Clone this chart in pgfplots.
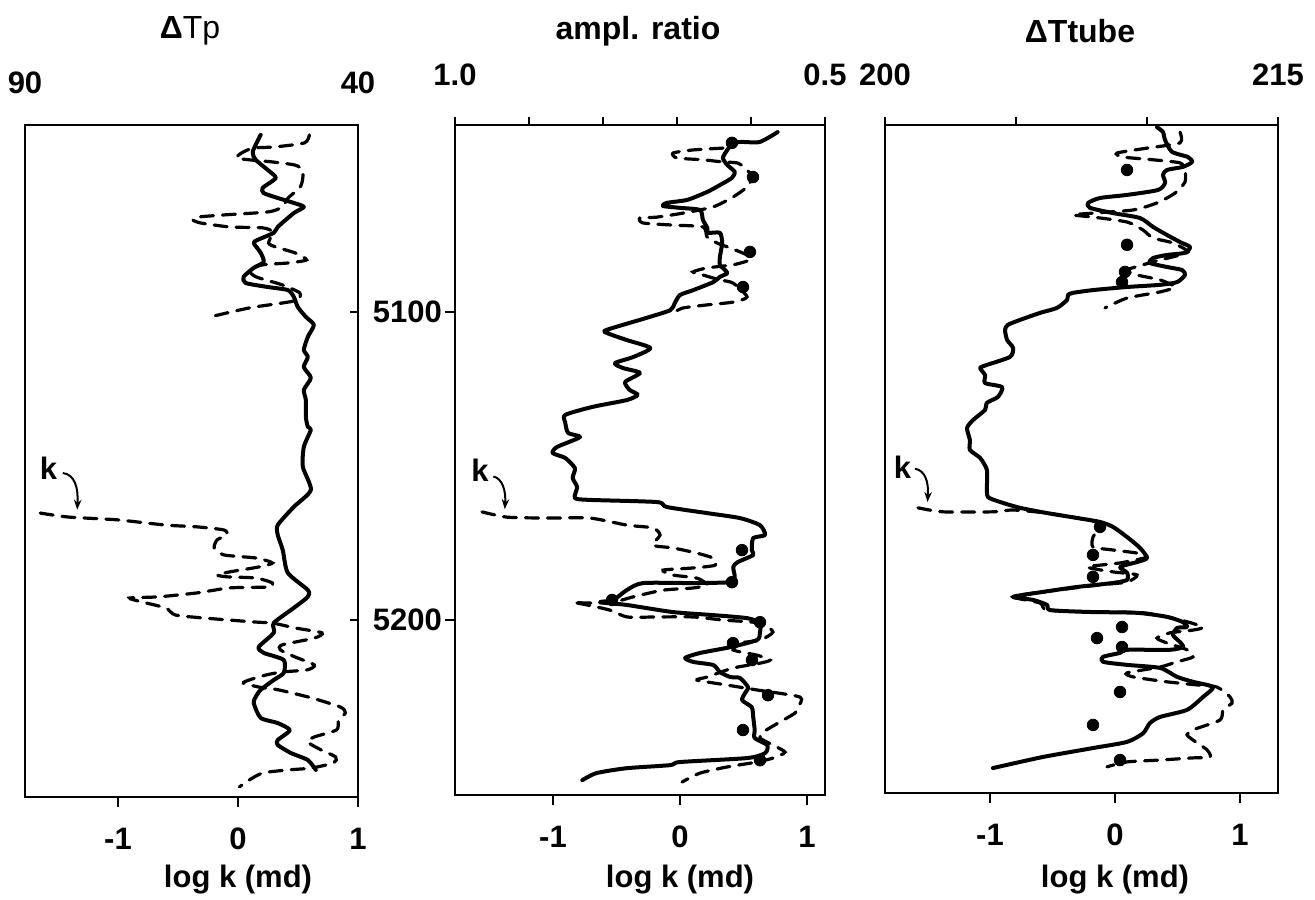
\documentclass[border=0pt]{standalone}
\usepackage{fontspec}
\setmainfont{Liberation Sans}
\usepackage{pgfplots}
\pgfplotsset{compat=1.18}
\usetikzlibrary{arrows.meta}

\newcommand\lab{\fontsize{15.5}{18}\selectfont\bfseries}

\pgfplotsset{
  logk/.style={scale only axis, y dir=reverse, clip=false,
    axis line style={line width=1.3pt},
    tick style={line width=1.1pt, black}, tick align=outside,
    major tick length=5pt,
    xtick={-1,0,1}, xticklabels={-1,0,1},
    xtick pos=lower, xticklabel pos=lower,
    ticklabel style={font=\lab},
    xticklabel style={yshift=-7pt}},
  param/.style={scale only axis, y dir=reverse,
    axis line style={draw=none},
    tick style={line width=1.1pt, black}, tick align=outside,
    major tick length=4pt,
    xtick pos=upper, xticklabel pos=upper, ytick=\empty,
    ticklabel style={font=\lab},
    xticklabel style={yshift=12pt}},
  solidk/.style={black, line width=2pt, smooth, tension=0.4, line join=round, line cap=round, no marks},
  dashk/.style={black, line width=1.6pt, dash pattern=on 6.5pt off 4.5pt, line cap=round, smooth, tension=0.4, no marks},
  core/.style={only marks, mark=*, mark size=2.9pt, black},
}

\begin{document}
\begin{tikzpicture}
\path[use as bounding box] (0,0) rectangle (657.5pt,449.5pt);

% titles
\node[font=\fontsize{16}{19}\selectfont] at (95pt,434pt) {\textbf{Δ}Tp};
\node[font=\fontsize{16}{19}\selectfont\bfseries] at (319pt,434pt) {ampl. ratio};
\node[font=\fontsize{16}{19}\selectfont\bfseries] at (540pt,434pt) {ΔTtube};

%%%%%%%%%%%%%%%% panel 1 : Delta Tp
\begin{axis}[logk, at={(12.5pt,51pt)}, anchor=south west,
  width=166.5pt, height=336pt,
  xmin=-1.775, xmax=1.0, ymin=5039.3, ymax=5257.5, ytick=\empty]
  % log k, upper part
  \addplot[dashk] coordinates {
    (0.595,5042.5) (0.555,5045.1) (0.312,5046.4) (0.126,5046.8) (0.028,5048.4)
    (-0.012,5050.0) (0.093,5050.6) (0.287,5051.3) (0.474,5052.3) (0.538,5053.9)
    (0.538,5057.1) (0.514,5059.7) (0.417,5063.0) (0.368,5065.9) (0.255,5067.5)
    (-0.117,5068.5) (-0.336,5069.2) (-0.377,5070.1) (-0.312,5071.1) (-0.069,5072.4)
    (0.206,5072.7) (0.287,5074.0) (0.255,5077.6) (0.312,5078.9) (0.474,5080.8)
    (0.571,5083.1) (0.417,5084.1) (0.206,5084.7) (0.093,5086.4) (0.150,5088.6)
    (0.368,5091.2) (0.514,5093.8) (0.498,5096.1) (0.368,5097.1) (0.093,5098.7)
    (-0.231,5101.6)};
  % log k, lower part
  \addplot[dashk] coordinates {
    (-1.648,5165.3) (-1.413,5166.6) (-1.008,5167.5) (-0.603,5169.2) (-0.336,5169.8)
    (-0.117,5170.8) (-0.093,5172.4) (-0.174,5174.0) (-0.198,5176.6) (-0.117,5178.9)
    (0.150,5179.9) (0.287,5181.5) (0.174,5182.8) (-0.069,5184.4) (-0.174,5185.4)
    (-0.093,5186.0) (0.150,5186.4) (0.287,5188.0) (0.255,5189.3) (-0.069,5189.6)
    (-0.336,5191.2) (-0.660,5192.5) (-0.903,5192.9) (-0.798,5194.2) (-0.603,5196.1)
    (-0.522,5198.4) (-0.279,5199.4) (0.150,5200.7) (0.287,5201.0) (0.474,5202.6)
    (0.700,5204.2) (0.636,5205.9) (0.368,5208.1) (0.352,5209.7) (0.474,5212.0)
    (0.636,5214.6) (0.579,5216.2) (0.368,5216.9) (0.231,5217.9) (0.093,5219.5)
    (0.045,5220.5) (0.174,5221.8) (0.336,5222.7) (0.611,5225.3) (0.854,5228.3)
    (0.895,5230.2) (0.838,5232.5) (0.822,5235.7) (0.636,5238.0) (0.579,5239.6)
    (0.692,5242.2) (0.814,5244.5) (0.798,5246.4) (0.611,5248.1) (0.417,5248.7)
    (0.206,5249.7) (0.093,5252.0) (0.012,5254.2)};
  \node[font=\lab] at (axis cs:-1.58,5150.7) {k};
  \draw[line width=1pt, -{Stealth[length=5pt]}] (axis cs:-1.46,5152.3)
    .. controls (axis cs:-1.36,5152.8) and (axis cs:-1.33,5157) .. (axis cs:-1.34,5164.2);
  \node[font=\lab] at (axis cs:0,5284.4) {log k (md)};
\end{axis}
\begin{axis}[param, at={(12.5pt,51pt)}, anchor=south west,
  width=166.5pt, height=336pt, x dir=reverse,
  xmin=40, xmax=90, ymin=5039.3, ymax=5257.5,
  xtick={40,90}, xticklabels={40,90}, xtick style={draw=none},
  tick align=inside, ytick={5100,5200}, yticklabels={}, ytick pos=right]
  \addplot[solidk] coordinates {
    (54.61,5042.5) (55.81,5048.0) (55.36,5050.6) (53.55,5053.9) (52.35,5056.5)
    (54.31,5059.7) (54.16,5061.4) (52.05,5063.0) (49.64,5064.6) (48.13,5065.9)
    (49.64,5067.9) (52.05,5072.4) (52.65,5074.3) (55.06,5076.6) (55.66,5077.6)
    (54.61,5080.8) (54.16,5083.8) (55.66,5085.7) (57.17,5088.6) (56.87,5090.6)
    (53.55,5091.9) (50.54,5092.9) (49.64,5095.1) (49.04,5098.4) (47.83,5101.6)
    (46.63,5104.2) (47.53,5108.1) (48.13,5112.3) (47.53,5114.6) (48.13,5117.9)
    (47.08,5121.4) (48.13,5125.3) (47.83,5128.6) (47.83,5134.1) (47.53,5137.3)
    (47.08,5138.3) (48.13,5143.8) (48.28,5150.3) (47.08,5157.8) (49.64,5163.3)
    (52.05,5169.2) (52.05,5172.4) (51.30,5177.3) (50.54,5184.7) (47.53,5190.3)
    (47.53,5192.5) (49.64,5196.1) (52.65,5201.0) (52.65,5204.2) (54.91,5208.8)
    (54.16,5210.7) (51.15,5213.0) (51.15,5217.2) (52.65,5219.5) (54.61,5222.7)
    (55.36,5225.0) (55.66,5227.0) (54.61,5231.8) (52.05,5233.5) (50.24,5235.8)
    (52.05,5239.0) (52.05,5240.6) (50.09,5243.2) (47.53,5245.5) (46.33,5248.7)};
\end{axis}

%%%%%%%%%%%%%%%% panel 2 : amplitude ratio
\begin{axis}[logk, at={(227.5pt,52pt)}, anchor=south west,
  width=185pt, height=335pt,
  xmin=-1.772, xmax=1.142, ymin=5039.3, ymax=5256.8,
  ytick={5100,5200}, yticklabels={5100,5200}, ytick pos=left,
  yticklabel style={xshift=2pt}]
  \addplot[dashk] coordinates {
    (0.339,5046.8) (0.102,5047.4) (-0.055,5048.4) (-0.024,5050.0) (0.181,5050.6)
    (0.339,5051.3) (0.449,5051.6) (0.512,5053.2) (0.567,5056.2) (0.528,5059.4)
    (0.417,5062.7) (0.260,5065.9) (0.024,5067.9) (-0.181,5069.2) (-0.315,5069.5)
    (-0.291,5071.1) (-0.055,5071.8) (0.181,5072.4) (0.213,5075.6) (0.291,5077.6)
    (0.394,5079.2) (0.528,5081.5) (0.551,5083.1) (0.417,5084.7) (0.213,5085.7)
    (0.102,5087.0) (0.181,5088.0) (0.315,5089.6) (0.417,5090.6) (0.528,5095.1)
    (0.417,5096.8) (0.213,5097.7) (0.024,5098.7) (-0.055,5100.3)};
  \addplot[dashk] coordinates {
    (-1.559,5164.9) (-1.362,5166.6) (-1.047,5166.9) (-0.709,5166.9) (-0.417,5169.2)
    (-0.213,5170.1) (-0.157,5172.4) (-0.213,5175.7) (-0.055,5176.6) (0.134,5178.3)
    (0.260,5179.9) (0.276,5182.2) (0.102,5183.1) (-0.134,5183.8) (-0.055,5185.4)
    (0.134,5186.4) (0.213,5188.6) (0.102,5189.6) (-0.134,5190.3) (-0.370,5192.5)
    (-0.528,5194.2) (-0.732,5194.5) (-0.843,5194.2) (-0.732,5195.1) (-0.551,5196.8)
    (-0.417,5199.0) (-0.181,5199.0) (0.102,5199.0) (0.339,5200.0) (0.630,5201.0)
    (0.732,5203.9) (0.630,5206.5) (0.472,5207.5) (0.417,5209.7) (0.606,5211.4)
    (0.709,5213.0) (0.630,5214.0) (0.417,5215.6) (0.213,5218.5) (0.134,5219.5)
    (0.370,5221.1) (0.606,5222.7) (0.945,5225.0) (0.929,5228.3) (0.906,5230.2)
    (0.787,5233.1) (0.654,5236.4) (0.630,5238.3) (0.732,5240.6) (0.827,5242.9)
    (0.732,5244.8) (0.606,5246.1) (0.370,5247.7) (0.157,5249.7) (0.016,5252.6)};
  \addplot[core] coordinates {
    (0.409,5045.1) (0.575,5056.2) (0.551,5080.5) (0.496,5091.9) (0.488,5177.3)
    (0.409,5187.7) (-0.535,5193.5) (0.630,5200.7) (0.417,5207.5) (0.567,5213.0)
    (0.693,5224.4) (0.496,5235.7) (0.630,5245.5)};
  \node[font=\lab] at (axis cs:-1.575,5151.3) {k};
  \draw[line width=1pt, -{Stealth[length=5pt]}] (axis cs:-1.47,5153.4)
    .. controls (axis cs:-1.40,5154) and (axis cs:-1.37,5158) .. (axis cs:-1.38,5164.0);
  \node[font=\lab] at (axis cs:0,5284.4) {log k (md)};
\end{axis}
\begin{axis}[param, at={(227.5pt,52pt)}, anchor=south west,
  width=185pt, height=335pt, x dir=reverse,
  xmin=0.5, xmax=1.0, ymin=5039.3, ymax=5256.8,
  xtick={0.5,0.6,0.7,0.8,0.9,1.0}, xticklabels={0.5,,,,,1.0}]
  \addplot[solidk] coordinates {
    (0.564,5041.6) (0.588,5044.8) (0.612,5044.8) (0.624,5045.1) (0.632,5047.4)
    (0.638,5050.0) (0.632,5052.3) (0.622,5054.5) (0.626,5056.5) (0.642,5058.8)
    (0.659,5061.0) (0.686,5063.6) (0.714,5064.6) (0.719,5065.6) (0.696,5066.2)
    (0.669,5066.9) (0.665,5070.1) (0.659,5072.7) (0.658,5074.3) (0.642,5074.3)
    (0.639,5077.6) (0.642,5082.1) (0.642,5084.7) (0.632,5087.3) (0.642,5088.6)
    (0.651,5090.3) (0.678,5092.9) (0.696,5094.5) (0.703,5097.1) (0.709,5099.4)
    (0.741,5101.9) (0.795,5105.8) (0.795,5106.8) (0.768,5109.1) (0.736,5111.7)
    (0.759,5114.6) (0.784,5116.6) (0.773,5118.2) (0.750,5119.8) (0.770,5122.7)
    (0.764,5125.3) (0.753,5126.9) (0.768,5128.6) (0.814,5130.8) (0.851,5133.4)
    (0.851,5136.0) (0.847,5139.3) (0.831,5140.6) (0.862,5143.8) (0.868,5145.8)
    (0.851,5147.4) (0.838,5150.7) (0.841,5153.9) (0.835,5156.8) (0.838,5160.4)
    (0.818,5161.0) (0.727,5161.7) (0.714,5163.3) (0.659,5165.3) (0.615,5166.9)
    (0.588,5169.2) (0.581,5172.4) (0.597,5173.4) (0.599,5177.3) (0.597,5178.9)
    (0.618,5181.2) (0.624,5182.8) (0.622,5186.0) (0.628,5187.7) (0.678,5188.0)
    (0.746,5188.0) (0.768,5190.3) (0.786,5193.5) (0.804,5194.2) (0.768,5195.1)
    (0.706,5197.4) (0.651,5198.4) (0.605,5199.4) (0.588,5201.0) (0.588,5204.2)
    (0.592,5206.5) (0.628,5208.8) (0.669,5210.7) (0.689,5212.3) (0.678,5213.6)
    (0.651,5214.6) (0.642,5216.9) (0.628,5218.5) (0.615,5218.8) (0.604,5221.8)
    (0.608,5223.7) (0.612,5226.0) (0.599,5228.3) (0.597,5231.5) (0.595,5235.7)
    (0.595,5238.3) (0.578,5240.6) (0.581,5243.2) (0.605,5244.8) (0.696,5246.1)
    (0.709,5247.1) (0.768,5248.1) (0.809,5249.7) (0.828,5252.0)};
\end{axis}

%%%%%%%%%%%%%%%% panel 3 : Delta T tube
\begin{axis}[logk, at={(442.5pt,53pt)}, anchor=south west,
  width=196.5pt, height=334pt,
  xmin=-1.84, xmax=1.304, ymin=5039.3, ymax=5256.2, ytick=\empty]
  \addplot[dashk] coordinates {
    (0.520,5041.6) (0.520,5045.1) (0.256,5046.8) (0.016,5048.4) (0.064,5049.7)
    (0.304,5050.6) (0.520,5051.6) (0.560,5053.9) (0.560,5057.8) (0.480,5061.4)
    (0.336,5064.6) (0.144,5066.9) (-0.176,5067.9) (-0.336,5068.5) (-0.176,5069.2)
    (0.096,5070.8) (0.224,5073.4) (0.304,5076.0) (0.464,5077.6) (0.584,5080.5)
    (0.464,5082.1) (0.360,5083.1) (0.224,5084.7) (0.096,5086.4) (0.176,5088.0)
    (0.360,5089.6) (0.480,5091.9) (0.360,5093.5) (0.096,5095.5) (-0.080,5098.7)};
  \addplot[dashk] coordinates {
    (-1.576,5163.6) (-1.376,5164.9) (-0.976,5164.9) (-0.816,5164.3) (-0.544,5165.3)
    (-0.304,5166.9) (-0.120,5168.5) (-0.120,5169.8) (-0.176,5173.1) (-0.176,5176.3)
    (-0.016,5177.3) (0.176,5178.3) (0.256,5179.6) (0.040,5181.5) (-0.224,5182.8)
    (-0.016,5184.4) (0.176,5185.4) (0.096,5187.7) (-0.120,5188.6) (-0.576,5190.9)
    (-0.816,5192.5) (-0.600,5194.5) (-0.544,5196.8) (-0.176,5197.4) (0.224,5197.7)
    (0.520,5200.0) (0.704,5202.3) (0.624,5203.3) (0.440,5204.2) (0.336,5205.9)
    (0.416,5207.5) (0.576,5209.7) (0.624,5212.0) (0.496,5213.6) (0.360,5215.3)
    (0.096,5217.2) (0.144,5218.5) (0.416,5220.1) (0.656,5221.1) (0.816,5221.8)
    (0.920,5225.0) (0.936,5227.0) (0.864,5229.2) (0.840,5232.5) (0.624,5235.7)
    (0.576,5237.3) (0.624,5239.0) (0.736,5242.2) (0.760,5244.5) (0.624,5244.8)
    (0.360,5245.5) (0.096,5246.1) (-0.064,5247.7)};
  \addplot[core] coordinates {
    (0.096,5053.9) (0.096,5078.2) (0.080,5087.0) (0.056,5090.3) (-0.120,5169.8)
    (-0.176,5178.9) (-0.176,5186.0) (0.056,5202.3) (-0.144,5205.9) (0.056,5208.8)
    (0.040,5223.4) (-0.176,5234.1) (0.040,5245.5)};
  \node[font=\lab] at (axis cs:-1.70,5150.3) {k};
  \draw[line width=1pt, -{Stealth[length=5pt]}] (axis cs:-1.60,5150.9)
    .. controls (axis cs:-1.52,5151.5) and (axis cs:-1.49,5155) .. (axis cs:-1.50,5161.7);
  \node[font=\lab] at (axis cs:0,5284.4) {log k (md)};
\end{axis}
\begin{axis}[param, at={(442.5pt,53pt)}, anchor=south west,
  width=196.5pt, height=334pt,
  xmin=200, xmax=215, ymin=5039.3, ymax=5256.2,
  xtick={200,205,210,215}, xticklabels={200,,,215}]
  \addplot[solidk] coordinates {
    (210.38,5040.0) (210.61,5041.6) (210.69,5044.2) (210.95,5048.0) (211.56,5049.7)
    (211.72,5051.3) (211.37,5052.9) (210.76,5053.9) (210.61,5055.5) (210.69,5058.1)
    (210.42,5060.4) (209.24,5062.0) (208.21,5063.0) (207.75,5064.6) (207.82,5066.2)
    (208.70,5067.9) (209.73,5069.5) (210.23,5072.4) (210.76,5075.0) (211.26,5077.3)
    (211.64,5078.9) (211.45,5080.8) (210.76,5081.5) (210.23,5082.5) (210.11,5084.1)
    (210.76,5085.4) (211.34,5086.4) (211.45,5088.0) (211.15,5090.3) (210.50,5091.2)
    (209.24,5091.9) (207.94,5092.9) (207.18,5093.8) (206.98,5094.5) (206.95,5096.1)
    (206.56,5098.7) (205.92,5100.3) (205.15,5102.6) (204.69,5104.2) (204.58,5105.8)
    (204.66,5109.1) (204.89,5111.7) (204.77,5114.6) (203.89,5117.2) (203.63,5118.2)
    (203.82,5120.5) (203.82,5123.1) (204.47,5124.4) (204.31,5127.6) (203.89,5129.5)
    (203.82,5131.8) (203.36,5135.1) (203.13,5137.7) (203.24,5141.6) (203.24,5144.8)
    (203.63,5147.4) (203.89,5151.3) (203.89,5156.8) (203.93,5160.1) (204.39,5161.7)
    (205.15,5163.6) (206.18,5165.3) (207.33,5166.9) (208.21,5168.2) (208.70,5169.8)
    (209.24,5173.1) (209.73,5176.6) (210.00,5179.9) (209.62,5181.2) (208.97,5182.8)
    (209.24,5184.7) (209.24,5187.0) (208.70,5188.0) (207.33,5189.3) (206.03,5190.9)
    (204.89,5192.5) (205.65,5193.5) (206.18,5195.1) (206.30,5196.8) (207.71,5197.4)
    (209.62,5197.7) (210.76,5199.0) (211.37,5200.7) (211.53,5202.3) (211.15,5202.6)
    (210.99,5204.9) (211.26,5207.2) (211.37,5208.8) (210.88,5209.7) (209.24,5209.7)
    (208.97,5210.7) (208.32,5212.0) (208.32,5213.6) (209.24,5214.6) (210.50,5215.6)
    (211.15,5218.5) (211.76,5220.1) (212.52,5221.8) (212.14,5225.0) (211.53,5229.2)
    (210.50,5231.5) (210.11,5233.5) (209.85,5236.8) (209.24,5239.6) (207.94,5241.6)
    (206.03,5244.5) (204.12,5248.1)};
\end{axis}
\end{tikzpicture}
\end{document}
